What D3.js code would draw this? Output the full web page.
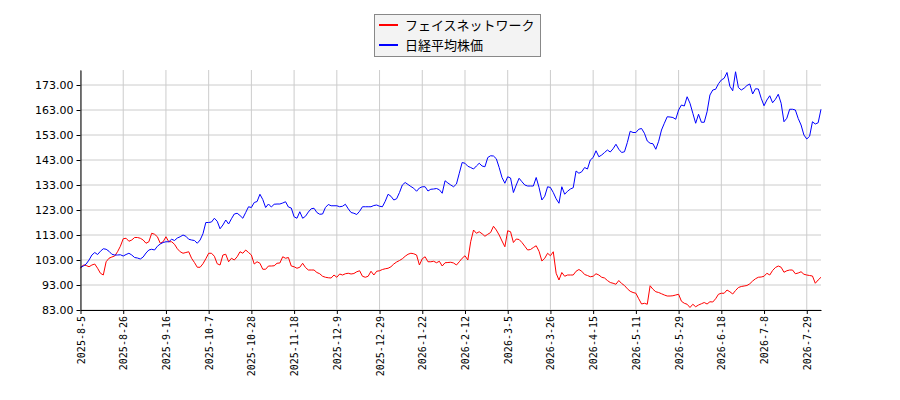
<!DOCTYPE html>
<html><head><meta charset="utf-8">
<script src="https://cdn.jsdelivr.net/npm/d3@7"></script>
<style>body{margin:0;background:#fff}</style>
</head><body><svg id="c" width="900" height="400"></svg>
<script>
const tickLabels = ["2025-8-5","2025-8-26","2025-9-16","2025-10-7","2025-10-28","2025-11-18","2025-12-9","2025-12-29","2026-1-22","2026-2-12","2026-3-5","2026-3-26","2026-4-15","2026-5-11","2026-5-29","2026-6-18","2026-7-8","2026-7-29"];
const yTicks = [83,93,103,113,123,133,143,153,163,173];
const seriesNames = ["フェイスネットワーク","日経平均株価"];
const faceNetwork = [99.7,101,100.8,100.3,101,101.4,99.7,97.7,97,102.3,103.7,104.2,104.6,106.3,108.5,111.5,111.7,110.5,111,112,112,111.7,111,109.7,110.3,113.7,113.3,112.3,109.7,110.3,112.3,110.3,110.3,109.3,107.5,106.3,105.7,106,106.3,103.7,102,100.1,100.1,101.5,103.5,105.7,105.7,104.5,101.5,101,105,105.3,102.3,103.7,103,104.3,106.3,105.7,107,106,105,101.4,102.3,101.7,99.3,99.3,100.6,100.6,100.7,101.7,101.8,104.3,103.7,104,100.6,100.3,99.7,100.1,101.7,100,99,99,99,98,97.5,96.5,96.1,95.9,95.8,97,96.1,97.4,97,97.5,97.7,97.4,97.6,98.3,98.7,96.5,96.1,96.5,98.5,97,98.5,98.7,99.2,99.5,99.7,100.3,101.4,102.2,102.8,103.5,104.5,105.3,105.7,105.5,105,101,103.5,104.3,102.3,102.3,102.5,101.9,102.5,100.6,101.9,102,102.1,101.8,101,102.3,103.7,104.7,103,110.3,115,113.7,114.3,113.5,112.5,113.3,114,116.5,115,113,110.6,108.3,114.7,114.3,110,111.4,111.2,110,108.5,107,107.2,108,108.7,106.5,102.6,103.7,105.7,104.7,106.3,97.7,95,98,96.5,97,97,97,98.5,99.2,98.5,97.2,96.8,96.3,96.5,97.5,97,96.1,95.8,94.8,94,93.7,93.3,94.8,93.6,92.8,91.5,90.5,90,89.7,87.5,85.4,85.7,85.3,92.7,91.3,90.3,90,89.5,89,88.6,88.6,88.7,89,89.3,86.5,85.7,85.3,84,85.3,84.3,85,85.5,86,85.4,86.3,86.2,87.5,89.3,89.7,89.7,91,90.3,89.4,90.8,92,92.4,92.6,92.8,93.5,94.6,95.5,96.1,96.2,96.5,97.7,97,98.8,100,100.6,100.1,98.1,98.7,99,99,97.5,97.8,98.3,97.3,97,96.8,96.6,93.7,95,96.1];
const nikkei = [100.1,100.6,101.4,103,105,106,105.2,106.5,107.5,107.3,106.5,105.3,105,105,105.1,104.6,105.2,105.7,105,104,103.8,103.4,104.2,105.8,107,107.3,107,108.5,109.4,110,110.3,110.3,111.3,110.8,111.8,112.3,113,112.5,111.3,111,110.8,109.7,111,113.5,118,118,118.2,119.7,118.5,115.5,117,119,117.4,119.5,121.4,121.7,120.8,119.7,122,124.3,124,126,126.4,129.3,127.2,124,125.4,124.2,125.3,125.4,125.4,125.8,126.3,124.2,123.8,120.3,119.7,122.3,119.7,120.5,122.2,123.5,123.7,122,121.3,121.4,124,125.2,124.7,124.7,124.7,124.3,124.5,125.3,123.5,122,121.7,121.2,122.5,124.3,124.3,124.3,124.3,124.8,125,124.5,124.3,126.5,129.3,128.5,127,127.5,130,133,134,133.2,132.4,131.7,130.5,131.8,132.3,132.3,130.6,131.3,131.4,131.6,131.1,129.7,134.7,133.8,133,132.3,133.4,137.7,142,141.7,140.5,140,139.4,140.6,141.7,140.6,140.3,144,144.7,144.6,143.5,140,136,133.7,136.3,135.8,130,133,135.7,134.3,133,132.6,132.6,132.6,136,132,127,128.5,132.3,132,130,127.5,125.7,132.3,129.3,130.5,131.4,131.9,138.6,137.7,138.3,140,139.4,143,144,146.7,144.3,145,146,147,146.2,147.5,149.3,147.3,146,146.3,150,154.5,154,154,155.3,155.6,153.7,150.6,149.7,149.5,147.3,150.5,155,157.7,160.3,160.2,160,159.3,163,165,164.6,168.3,165.7,161.7,157.7,161.3,158.1,158.1,162.3,169,171,171.3,173.5,175,175.7,178,172.5,170.7,178.3,172,171,171.7,172.8,173.4,169.4,171.5,171.4,167.7,164.7,167,168.7,165.9,167.3,169.3,165.7,158.3,159.7,163.3,163.3,163,159.6,157,153,151.4,152.5,158.3,157.4,157.9,163.3];
const colors = ["#ff0000","#0000ff"];

const svg = d3.select("#c");
const L = 80.5, R = 821, T = 70, B = 310;
const x = d3.scaleLinear().domain([0, faceNetwork.length - 1]).range([L, R]);
const y = d3.scaleLinear().domain([83, 179]).range([B, T]);
const tickIdx = tickLabels.map((d, i) => i * 15);

// grid
const g = svg.append("g");
g.selectAll("line.gx").data(tickIdx).join("line")
  .attr("x1", d => x(d)).attr("x2", d => x(d)).attr("y1", T).attr("y2", B)
  .attr("stroke", "#cccccc").attr("stroke-width", 1);
g.selectAll("line.gy").data(yTicks).join("line")
  .attr("x1", L).attr("x2", R).attr("y1", d => y(d)).attr("y2", d => y(d))
  .attr("stroke", "#cccccc").attr("stroke-width", 1);

// lines
const line = d3.line().x((d, i) => x(i)).y(d => y(d));
[faceNetwork, nikkei].forEach((s, k) => {
  svg.append("path").datum(s).attr("d", line)
    .attr("fill", "none").attr("stroke", colors[k]).attr("stroke-width", 1);
});

// axes
const yAxis = d3.axisLeft(y).tickValues(yTicks).tickFormat(d => d3.format(".2f")(d)).tickSize(4).tickSizeOuter(0);
const ya = svg.append("g").attr("transform", `translate(${L},0)`).call(yAxis);
ya.selectAll("text").attr("font-family", "DejaVu Sans").attr("font-size", 11).attr("fill", "#000");
ya.select(".domain").attr("stroke", "#000");
ya.selectAll(".tick line").attr("stroke", "#000");

const xAxis = d3.axisBottom(x).tickValues(tickIdx).tickFormat((d, i) => tickLabels[i]).tickSize(4).tickSizeOuter(0);
const xa = svg.append("g").attr("transform", `translate(0,${B})`).call(xAxis);
xa.select(".domain").attr("stroke", "#000");
xa.selectAll(".tick line").attr("stroke", "#000");
xa.selectAll("text")
  .attr("font-family", "DejaVu Sans Mono").attr("font-size", 10).attr("fill", "#000")
  .attr("transform", "rotate(-90)").attr("text-anchor", "end")
  .attr("x", -6).attr("y", 0).attr("dy", "0.35em");

// legend
const lg = svg.append("g");
lg.append("rect").attr("x", 374.5).attr("y", 14.5).attr("width", 166).attr("height", 42)
  .attr("fill", "#f3f3f3").attr("stroke", "#888").attr("stroke-width", 1);
seriesNames.forEach((n, k) => {
  const yy = 25 + k * 20;
  lg.append("line").attr("x1", 379).attr("x2", 398).attr("y1", yy).attr("y2", yy)
    .attr("stroke", colors[k]).attr("stroke-width", 2);
  lg.append("text").attr("x", 405).attr("y", yy).attr("dy", "0.35em")
    .attr("font-family", "Noto Sans CJK JP").attr("font-size", 13).attr("fill", "#000").text(n);
});
</script></body></html>
